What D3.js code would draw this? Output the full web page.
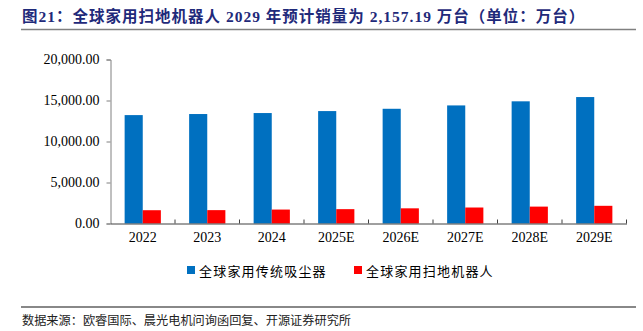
<!DOCTYPE html>
<html><head><meta charset="utf-8">
<script src="https://cdn.jsdelivr.net/npm/d3@7/dist/d3.min.js"></script>
<style>body{margin:0;background:#fff}svg{display:block}</style>
</head><body>
<svg id="c" width="643" height="331"></svg>
<script>
const categories = ["2022","2023","2024","2025E","2026E","2027E","2028E","2029E"];
const vacuum = [13220,13350,13470,13710,13990,14400,14900,15420];
const robot = [1620,1630,1700,1750,1850,1950,2060,2157.19];
const seriesNames = ["全球家用传统吸尘器","全球家用扫地机器人"];
const seriesColors = ["#0070C0","#FF0000"];
const yTicks = [0,5000,10000,15000,20000];
const titleText = "图21：全球家用扫地机器人 2029 年预计销量为 2,157.19 万台（单位：万台）";
const sourceText = "数据来源：欧睿国际、晨光电机问询函回复、开源证券研究所";

const svg = d3.select("#c");
const cjk = "'Noto Sans CJK SC', sans-serif";
const serif = "'Liberation Serif', 'Times New Roman', serif";

// title
svg.append("text").attr("x",22).attr("y",22).attr("font-family","'Liberation Serif', 'Noto Sans CJK SC', serif")
  .attr("font-weight","bold").attr("font-size",15.5).attr("letter-spacing",1.0).attr("fill","#1F2A7A").text(titleText);
svg.append("line").attr("x1",21).attr("x2",636).attr("y1",29.5).attr("y2",29.5).attr("stroke","#808080").attr("stroke-width",1.5);

const x = d3.scaleBand().domain(categories).range([110.5,626.5]);
const y = d3.scaleLinear().domain([0,20000]).range([223.5,59.5]);
const inner = d3.scaleBand().domain([0,1]).range([0,x.bandwidth()]).paddingOuter(0.78).paddingInner(0);

// bars
const data = [vacuum, robot];
data.forEach((vals,si)=>{
  svg.append("g").selectAll("rect").data(categories).join("rect")
    .attr("x",(c)=>x(c)+inner(si))
    .attr("width",inner.bandwidth())
    .attr("y",(c,i)=>y(vals[i]))
    .attr("height",(c,i)=>y(0)-y(vals[i]))
    .attr("fill",seriesColors[si]);
});

// y axis
const yAxis = svg.append("g").attr("transform","translate(110.5,0)")
  .call(d3.axisLeft(y).tickValues(yTicks).tickSize(4).tickFormat(d3.format(",.2f")));
yAxis.select(".domain").attr("stroke","#808080");
yAxis.selectAll(".tick line").attr("stroke","#808080");
yAxis.selectAll("text").attr("font-family",serif).attr("font-size",14).attr("fill","#000").attr("x",-11);

// x axis
const xAxis = svg.append("g").attr("transform","translate(0,223.5)")
  .call(d3.axisBottom(x).tickSize(0).tickSizeOuter(0));
xAxis.select(".domain").attr("stroke","#404040");
xAxis.selectAll("text").attr("font-family",serif).attr("font-size",14).attr("fill","#000").attr("dy","1.1em");
// category boundary ticks (pointing up)
xAxis.append("g").selectAll("line").data(categories.slice(1).concat(["end"])).join("line")
  .attr("x1",(c,i)=>x.range()[0]+x.step()*(i+1)).attr("x2",(c,i)=>x.range()[0]+x.step()*(i+1))
  .attr("y1",0).attr("y2",-4).attr("stroke","#404040");

// legend
const legendX = [187, 354];
seriesNames.forEach((n,i)=>{
  svg.append("rect").attr("x",legendX[i]).attr("y",266).attr("width",8).attr("height",8).attr("fill",seriesColors[i]);
  svg.append("text").attr("x",legendX[i]+12).attr("y",275.5).attr("font-family",cjk).attr("font-size",13)
    .attr("letter-spacing",1.2).attr("fill","#000").text(n);
});

// footer
svg.append("line").attr("x1",21).attr("x2",636).attr("y1",307).attr("y2",307).attr("stroke","#606060").attr("stroke-width",1.5);
svg.append("text").attr("x",22).attr("y",325).attr("font-family",cjk).attr("font-size",12.2)
  .attr("fill","#222").text(sourceText);
</script>
</body></html>
